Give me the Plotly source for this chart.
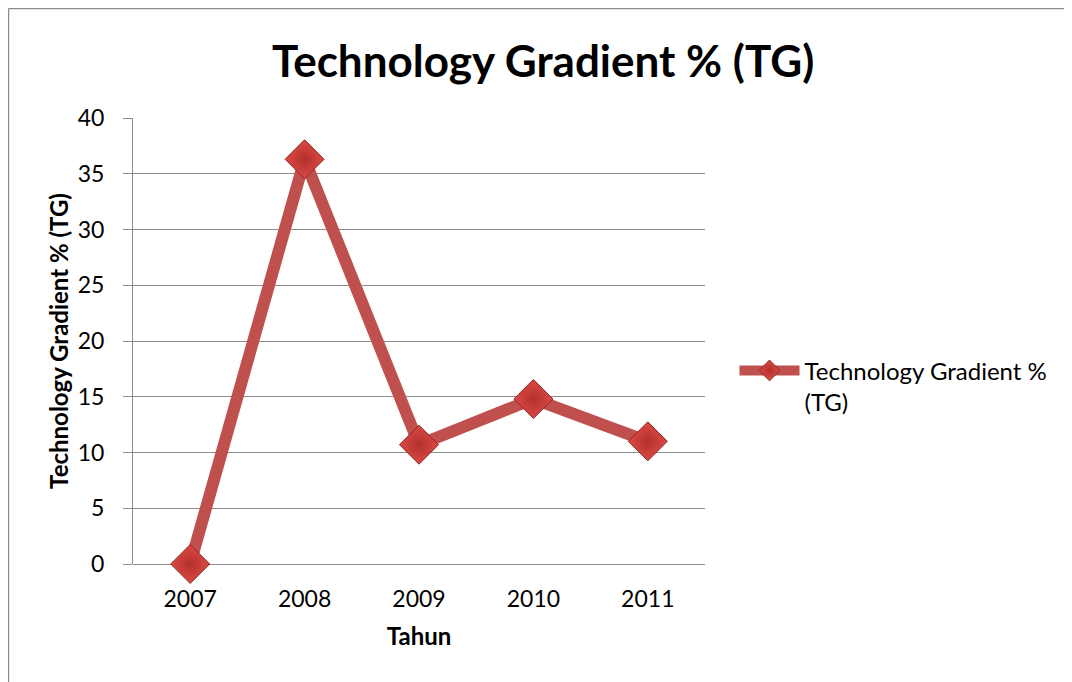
import plotly.graph_objects as go

# data
years = ["2007", "2008", "2009", "2010", "2011"]
tg_values = [0, 36.3, 10.7, 14.8, 11.0]
y_ticks = [0, 5, 10, 15, 20, 25, 30, 35, 40]

font_family = "Lato, 'Open Sans', sans-serif"
red = "#C0504D"

fig = go.Figure()

fig.add_trace(go.Scatter(
    x=years, y=tg_values,
    mode="lines+markers",
    name="Technology Gradient %<br>(TG)",
    line=dict(color=red, width=12),
    marker=dict(symbol="diamond", size=30, color="#DC4A45",
                gradient=dict(type="radial", color="#B3302C"),
                line=dict(color="#8E2724", width=1)),
    cliponaxis=False,
))

# outer chart border (only top and left edges show in the picture)
fig.add_shape(type="line", xref="paper", yref="paper",
              x0=-0.2177, x1=1.8, y0=1.2455, y1=1.2455,
              line=dict(color="#8C8C8C", width=1.5), layer="below")
fig.add_shape(type="line", xref="paper", yref="paper",
              x0=-0.2177, x1=-0.2177, y0=-0.4, y1=1.2455,
              line=dict(color="#8C8C8C", width=1.5), layer="below")

fig.update_layout(
    width=1064, height=674,
    margin=dict(l=125, r=367, t=110, b=118),
    paper_bgcolor="white", plot_bgcolor="white",
    font=dict(family=font_family, size=23, color="black"),
    title=dict(text="<b>Technology Gradient % (TG)</b>", x=0.503, xanchor="center",
               y=0.92, yanchor="middle", font=dict(size=44, family=font_family)),
    legend=dict(x=1.0516, y=0.4835, xanchor="left", yanchor="top", valign="top",
                font=dict(size=24, family=font_family), itemwidth=60,
                bgcolor="rgba(0,0,0,0)"),
    showlegend=True,
)

fig.update_xaxes(
    type="category", range=[-0.5, 4.5],
    showgrid=False, showline=False, ticks="",
    ticklabelstandoff=19,
    tickfont=dict(size=23),
    title=dict(text="<b>Tahun</b>", font=dict(size=24), standoff=17),
)
fig.update_yaxes(
    range=[0, 40], tickvals=y_ticks,
    showgrid=True, gridcolor="#8C8C8C", gridwidth=1,
    showline=True, linecolor="#8C8C8C", linewidth=1,
    ticks="outside", ticklen=9, tickcolor="#8C8C8C",
    ticklabelstandoff=14,
    zeroline=True, zerolinecolor="#8C8C8C", zerolinewidth=1,
    tickfont=dict(size=23),
    title=dict(text="<b>Technology Gradient % (TG)</b>", font=dict(size=24), standoff=2),
)

fig.write_html("out.html")
